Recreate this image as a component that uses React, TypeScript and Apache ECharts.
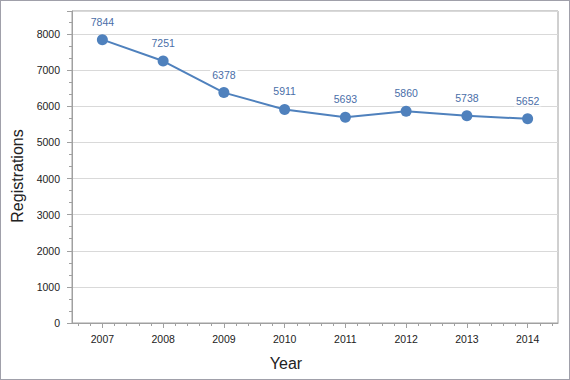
import React, { useEffect, useRef } from "react";
import * as echarts from "echarts";

const years = ["2007", "2008", "2009", "2010", "2011", "2012", "2013", "2014"];
const registrations = [7844, 7251, 6378, 5911, 5693, 5860, 5738, 5652];
const yMax = 8637;
const yInterval = 1000;
const yMinorPerMajor = 3;
// fine x slots (tenth of a year) used only to place minor ticks
const xFineSlots = Array.from({ length: 81 }, (_, i) => String(i));

export default function App() {
  const ref = useRef<HTMLDivElement>(null);
  useEffect(() => {
    if (!ref.current) return;
    const chart = echarts.init(ref.current, undefined, { renderer: "svg" });
    const font = "'Liberation Sans', Arial, sans-serif";
    const gray = "#a0a0a0";
    chart.setOption({
      animation: false,
      backgroundColor: "#ffffff",
      grid: {
        left: 72,
        top: 11,
        right: 12,
        bottom: 57,
        show: true,
        borderColor: gray,
        borderWidth: 1,
        backgroundColor: "transparent",
      },
      xAxis: [
        {
          type: "category",
          data: years,
          position: "bottom",
          boundaryGap: true,
          axisLine: { show: true, lineStyle: { color: gray, width: 1 } },
          axisTick: { show: true, alignWithLabel: true, length: 5, lineStyle: { color: gray } },
          axisLabel: { color: "#222", fontSize: 10.5, fontFamily: font, margin: 10 },
          splitLine: { show: false },
        },
        {
          type: "category",
          data: xFineSlots,
          position: "bottom",
          boundaryGap: false,
          axisLine: { show: false },
          axisTick: {
            show: true,
            length: 3,
            interval: (i: number) => i % 2 === 1,
            lineStyle: { color: gray },
          },
          axisLabel: { show: false },
          splitLine: { show: false },
        },
      ],
      yAxis: [
        {
          type: "value",
          position: "left",
          min: 0,
          max: yMax,
          interval: yInterval,
          axisLine: { show: true, lineStyle: { color: gray, width: 1 } },
          axisTick: { show: true, length: 5, lineStyle: { color: gray } },
          axisLabel: {
            color: "#222",
            fontSize: 10.5,
            fontFamily: font,
            margin: 12,
            formatter: (v: number) => (v % yInterval === 0 ? String(v) : ""),
          },
          splitLine: { show: true, lineStyle: { color: "#d9d9d9", width: 1 } },
        },
        {
          type: "value",
          position: "left",
          min: 0,
          max: (yMax * yMinorPerMajor) / yInterval,
          interval: 1,
          axisLine: { show: false },
          axisTick: { show: true, length: 3, lineStyle: { color: gray } },
          axisLabel: { show: false },
          splitLine: { show: false },
        },
      ],
      series: [
        {
          type: "line",
          xAxisIndex: 0,
          yAxisIndex: 0,
          data: registrations,
          symbol: "circle",
          symbolSize: 11,
          lineStyle: { color: "#4f81bd", width: 2 },
          itemStyle: { color: "#4f81bd" },
          label: {
            show: true,
            position: "top",
            distance: 7,
            color: "#4a6ea8",
            fontSize: 10.5,
            fontFamily: font,
            backgroundColor: "#ffffff",
            padding: [0, 2],
          },
        },
      ],
      graphic: [
        {
          type: "text",
          x: 17,
          y: 176,
          rotation: Math.PI / 2,
          style: {
            text: "Registrations",
            fontSize: 16,
            fontFamily: font,
            fill: "#222",
            align: "center",
            verticalAlign: "middle",
          },
        },
        {
          type: "text",
          x: 286,
          y: 363,
          style: {
            text: "Year",
            fontSize: 16,
            fontFamily: font,
            fill: "#222",
            align: "center",
            verticalAlign: "middle",
          },
        },
      ],
    });
    return () => chart.dispose();
  }, []);
  return (
    <div style={{ position: "absolute", left: 0, top: 0, width: 570, height: 380 }}>
      <div ref={ref} style={{ width: 570, height: 380 }} />
      <div
        style={{
          position: "absolute",
          left: 0,
          top: 0,
          width: 570,
          height: 380,
          boxSizing: "border-box",
          border: "1px solid #a0a0aa",
          pointerEvents: "none",
        }}
      />
    </div>
  );
}
